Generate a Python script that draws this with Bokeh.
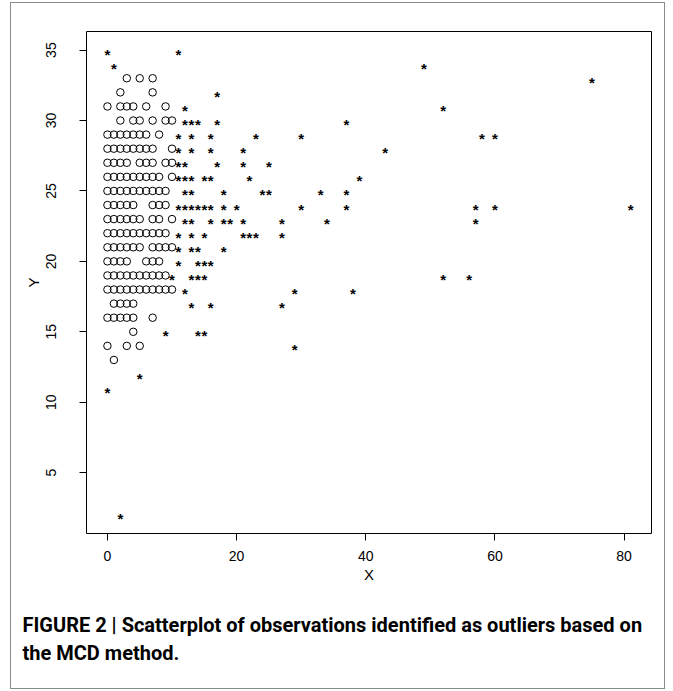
from bokeh.plotting import figure
from bokeh.models import ColumnDataSource, FixedTicker, Range1d, Title
from bokeh.core.properties import value
from bokeh.embed import file_html
from bokeh.resources import INLINE

# ---------------- data ----------------
x_ticks = [0, 20, 40, 60, 80]
y_ticks = [5, 10, 15, 20, 25, 30, 35]

# regular observations (open circles)
circle_x = (
    [3, 5, 7] +                              # y=33
    [2, 7] +                                 # y=32
    [0, 2, 3, 4, 6, 9] +                     # y=31
    [2, 4, 5, 7, 9, 10] +                    # y=30
    [0, 1, 2, 3, 4, 5, 6, 8] +               # y=29
    [0, 1, 2, 3, 4, 5, 6, 7, 10] +           # y=28
    [0, 1, 2, 3, 5, 6, 7, 9, 10] +           # y=27
    [0, 1, 2, 3, 4, 5, 6, 7, 8, 10] +        # y=26
    [0, 1, 2, 3, 4, 5, 6, 7, 8, 9] +         # y=25
    [0, 1, 2, 3, 4, 7, 8, 9] +               # y=24
    [0, 1, 2, 3, 4, 5, 7, 8, 10] +           # y=23
    [0, 1, 2, 3, 4, 5, 6, 7, 8, 9] +         # y=22
    [0, 1, 2, 3, 4, 5, 7, 8, 9, 10] +        # y=21
    [0, 1, 2, 3, 6, 7, 8] +                  # y=20
    [0, 1, 2, 3, 4, 5, 6, 7, 8, 9] +         # y=19
    [0, 1, 2, 3, 4, 5, 6, 7, 8, 9, 10] +     # y=18
    [1, 2, 3, 4] +                           # y=17
    [0, 1, 2, 3, 4, 7] +                     # y=16
    [4] +                                    # y=15
    [0, 3, 5] +                              # y=14
    [1]                                      # y=13
)
circle_y = (
    [33] * 3 + [32] * 2 + [31] * 6 + [30] * 6 + [29] * 8 + [28] * 9 +
    [27] * 9 + [26] * 10 + [25] * 10 + [24] * 8 + [23] * 9 + [22] * 10 +
    [21] * 10 + [20] * 7 + [19] * 10 + [18] * 11 + [17] * 4 + [16] * 6 +
    [15] * 1 + [14] * 3 + [13] * 1
)

# observations flagged as outliers by MCD (asterisks)
star_x = (
    [0, 11] +                                            # y=35
    [1, 49] +                                            # y=34
    [75] +                                               # y=33
    [17] +                                               # y=32
    [12, 52] +                                           # y=31
    [12, 13, 14, 17, 37] +                               # y=30
    [11, 13, 16, 23, 30, 58, 60] +                       # y=29
    [11, 13, 16, 21, 43] +                               # y=28
    [11, 12, 17, 21, 25] +                               # y=27
    [11, 12, 13, 15, 16, 22, 39] +                       # y=26
    [12, 13, 18, 24, 25, 33, 37] +                       # y=25
    [11, 12, 13, 14, 15, 16, 18, 20, 30, 37, 57, 60, 81] +  # y=24
    [12, 13, 16, 18, 19, 21, 27, 34, 57] +               # y=23
    [11, 13, 15, 21, 22, 23, 27] +                       # y=22
    [11, 13, 14, 18] +                                   # y=21
    [11, 14, 15, 16] +                                   # y=20
    [10, 13, 14, 15, 52, 56] +                           # y=19
    [12, 29, 38] +                                       # y=18
    [13, 16, 27] +                                       # y=17
    [9, 14, 15] +                                        # y=15
    [29] +                                               # y=14
    [5] +                                                # y=12
    [0] +                                                # y=11
    [2]                                                  # y=2
)
star_y = (
    [35] * 2 + [34] * 2 + [33] * 1 + [32] * 1 + [31] * 2 + [30] * 5 +
    [29] * 7 + [28] * 5 + [27] * 5 + [26] * 7 + [25] * 7 + [24] * 13 +
    [23] * 9 + [22] * 7 + [21] * 4 + [20] * 4 + [19] * 6 + [18] * 3 +
    [17] * 3 + [15] * 3 + [14] * 1 + [12] * 1 + [11] * 1 + [2] * 1
)

x_label = "X"
y_label = "Y"
caption_1 = "FIGURE 2 | Scatterplot of observations identified as outliers based on"
caption_2 = "the MCD method."

# ---------------- figure ----------------
# the figure sits inside a thin grey frame (CSS border) like the journal figure box
W, H = 655, 687
p = figure(width=W, height=H, output_backend="svg", toolbar_location=None,
           x_range=Range1d(-3.24, 84.24), y_range=Range1d(0.68, 36.32),
           min_border_left=75, min_border_right=15, min_border_top=28,
           min_border_bottom=140)
p.margin = (2, 0, 0, 10)
p.styles = {"border": "1px solid #8a8a8a"}
p.grid.visible = False
p.background_fill_color = "white"
p.border_fill_color = "white"
p.outline_line_color = "black"
p.outline_line_width = 1

font = "Liberation Sans"
for ax in (p.xaxis[0], p.yaxis[0]):
    ax.axis_line_color = None
    ax.minor_tick_line_color = None
    ax.major_tick_in = 0
    ax.major_tick_out = 7
    ax.major_tick_line_color = "black"
    ax.major_label_text_font = font
    ax.major_label_text_font_size = "14px"
    ax.major_label_text_color = "black"
    ax.axis_label_text_font = font
    ax.axis_label_text_font_size = "15px"
    ax.axis_label_text_font_style = "normal"
    ax.axis_label_text_color = "black"

p.xaxis.ticker = FixedTicker(ticks=x_ticks)
p.yaxis.ticker = FixedTicker(ticks=y_ticks)
p.xaxis.axis_label = x_label
p.yaxis.axis_label = y_label
p.xaxis.major_label_standoff = 10
p.xaxis.axis_label_standoff = 2
p.yaxis.major_label_orientation = "vertical"
p.yaxis.major_label_standoff = 23
p.yaxis.axis_label_standoff = 2

circ_src = ColumnDataSource(dict(x=circle_x, y=circle_y))
p.scatter("x", "y", source=circ_src, marker="circle", size=7.5,
          fill_color=None, line_color="black", line_width=1)

star_src = ColumnDataSource(dict(x=star_x, y=star_y, t=["*"] * len(star_x)))
p.text("x", "y", text="t", source=star_src, text_font=value(font),
       text_font_size="15px", text_font_style="bold", text_color="black",
       text_align="center", text_baseline="middle", y_offset=4)

cap = Title(text=caption_1 + "\n" + caption_2, align="left", offset=-64,
            standoff=50, text_font="Roboto", text_font_size="20px",
            text_font_style="bold", text_color="black", text_line_height=1.2)
p.add_layout(cap, "below")

open("out.html", "w").write(file_html(p, INLINE))
